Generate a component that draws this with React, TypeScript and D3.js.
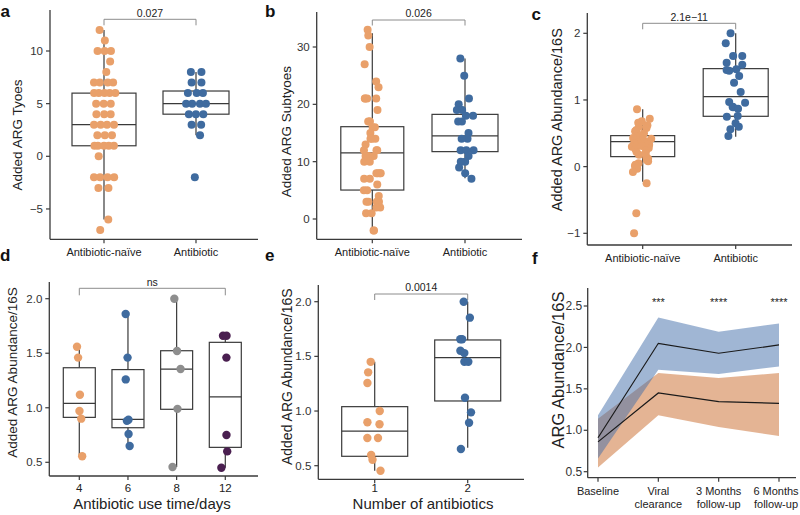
import React from "react";
import * as d3 from "d3";

// ---------------- DATA ----------------
const catAB = ["Antibiotic-naïve", "Antibiotic"];

const aNaive = [12, 11, 10, 10, 10, 9, 8, 7, 7, 7, 7, 6, 6, 6, 6, 6, 5, 5, 5, 4, 4, 4, 3, 3, 3, 3, 2, 2, 2, 1, 1, 1, 1, 1, 0, -2, -2, -2, -2, -3, -3, -6, -7];
const aAnti = [8, 8, 7, 7, 6, 6, 6, 5, 5, 5, 5, 4, 4, 4, 3, 3, 2, -2];
const aStatsNaive = [-6, 1, 3, 6, 12];
const aStatsAnti = [2, 4, 5, 6.2, 8];
const aTicks = [-5, 0, 5, 10];
const aP = "0.027";

const bNaive = [33, 32, 30, 27, 24, 23, 21, 21, 21, 21, 19, 17, 17, 17, 16, 16, 15, 14, 14, 14, 13, 12, 12, 12, 11, 11, 11, 10, 10, 8, 8, 8, 8, 7, 7, 6, 5, 5, 4, 3, 3, 3, 3, 2, 2, 1, 1, -2, -2];
const bAnti = [28, 25, 21, 20, 19, 19, 18, 18, 17, 17, 15, 14, 14, 12, 12, 12, 11, 10, 10, 9, 8, 7];
const bStatsNaive = [-2, 5.05, 11.55, 16.1, 32.4];
const bStatsAnti = [7.1, 11.75, 14.5, 18.25, 28];
const bTicks = [0, 10, 20, 30];
const bP = "0.026";

const cNaive = [0.86, 0.72, 0.68, 0.66, 0.62, 0.6, 0.58, 0.55, 0.53, 0.5, 0.48, 0.46, 0.45, 0.43, 0.42, 0.41, 0.4, 0.39, 0.38, 0.37, 0.36, 0.35, 0.33, 0.31, 0.3, 0.28, 0.26, 0.24, 0.22, 0.2, 0.18, 0.15, 0.12, 0.1, 0.08, 0.05, 0.03, 0.01, -0.03, -0.08, -0.25, -0.7, -1.0];
const cAnti = [2.0, 1.85, 1.66, 1.66, 1.56, 1.53, 1.46, 1.45, 1.44, 1.36, 1.26, 1.12, 0.97, 0.96, 0.9, 0.89, 0.87, 0.76, 0.75, 0.65, 0.6, 0.56, 0.46];
const cStatsNaive = [-0.225, 0.15, 0.375, 0.465, 0.86];
const cStatsAnti = [0.45, 0.755, 1.05, 1.47, 2.0];
const cTicks = [-1, 0, 1, 2];
const cP = "2.1e\u221211";

const dCats = ["4", "6", "8", "12"];
const d4 = [1.56, 1.46, 1.12, 0.97, 0.9, 0.555];
const d6 = [1.86, 1.46, 1.26, 0.89, 0.88, 0.76, 0.65];
const d8 = [2.0, 1.52, 1.355, 0.99, 0.457];
const d12 = [1.66, 1.66, 1.46, 0.75, 0.6, 0.45];
const dStats4 = [0.555, 0.912, 1.04, 1.367, 1.55];
const dStats6 = [0.66, 0.817, 0.894, 1.35, 1.857];
const dStats8 = [0.457, 0.986, 1.355, 1.523, 2.0];
const dStats12 = [0.45, 0.637, 1.099, 1.6, 1.658];
const dTicks = [0.5, 1.0, 1.5, 2.0];
const dP = "ns";

const eCats = ["1", "2"];
const e1 = [1.45, 1.354, 1.256, 1.0, 0.897, 0.879, 0.753, 0.753, 0.598, 0.555, 0.454];
const e2 = [2.0, 1.854, 1.656, 1.656, 1.552, 1.53, 1.451, 1.451, 1.122, 0.988, 0.893, 0.653];
const eStats1 = [0.454, 0.586, 0.817, 1.04, 1.451];
const eStats2 = [0.665, 1.092, 1.488, 1.65, 2.0];
const eTicks = [0.5, 1.0, 1.5, 2.0];
const eP = "0.0014";

const fTimes = ["Baseline", "Viral clearance", "3 Months follow-up", "6 Months follow-up"];
const fTimeLines = [["Baseline"], ["Viral", "clearance"], ["3 Months", "follow-up"], ["6 Months", "follow-up"]];
const fNaiveMean = [0.86, 1.45, 1.345, 1.325];
const fNaiveLo = [0.55, 1.18, 1.04, 0.93];
const fNaiveHi = [1.14, 1.69, 1.63, 1.69];
const fAntiMean = [0.91, 2.05, 1.93, 2.03];
const fAntiLo = [0.66, 1.73, 1.68, 1.77];
const fAntiHi = [1.18, 2.36, 2.19, 2.29];
const fStars = ["", "***", "****", "****"];
const fTicks = [0.5, 1.0, 1.5, 2.0, 2.5];

// ---------------- STYLE ----------------
const ORANGE = "#E9A06A";
const BLUE = "#3F6B9F";
const GRAY = "#8E8E8E";
const PURPLE = "#4A1F50";
const AXIS = "#3a3a3a";
const BOXC = "#3a3a3a";
const BRK = "#8c8c8c";
const FONT = "'Liberation Sans', Arial, Helvetica, sans-serif";

function jitter(values: number[], half: number, seed: number, grouped: boolean): number[] {
  const rnd = d3.randomLcg(seed);
  if (!grouped) return values.map(() => (rnd() - 0.5) * 2 * half);
  const counts = d3.rollup(values, (v) => v.length, (v) => v);
  const seen = new Map<number, number>();
  return values.map((v) => {
    const k = counts.get(v) as number;
    const i = seen.get(v) ?? 0;
    seen.set(v, i + 1);
    if (k === 1) return (rnd() - 0.5) * 1.6 * half;
    const hs = Math.min(half, 2.6 * (k - 1) + 2);
    return -hs + (i * 2 * hs) / (k - 1) + (rnd() - 0.5) * 2;
  });
}

type Scale = d3.ScaleLinear<number, number>;

function Box({ cx, bw, stats, y }: { cx: number; bw: number; stats: number[]; y: Scale }) {
  const [lo, q1, md, q3, hi] = stats;
  return (
    <g stroke={BOXC} strokeWidth={1.2} fill="white">
      <line x1={cx} x2={cx} y1={y(hi)} y2={y(q3)} />
      <line x1={cx} x2={cx} y1={y(q1)} y2={y(lo)} />
      <rect x={cx - bw / 2} y={y(q3)} width={bw} height={y(q1) - y(q3)} />
      <line x1={cx - bw / 2} x2={cx + bw / 2} y1={y(md)} y2={y(md)} />
    </g>
  );
}

function Points({ cx, vals, y, color, half, seed, grouped, r }: { cx: number; vals: number[]; y: Scale; color: string; half: number; seed: number; grouped: boolean; r: number }) {
  const dx = jitter(vals, half, seed, grouped);
  return (
    <g fill={color}>
      {vals.map((v, i) => (
        <circle key={i} cx={cx + dx[i]} cy={y(v)} r={r} />
      ))}
    </g>
  );
}

function YAxis({ x, y, ticks, fmt, top, bottom, fs, gap = 7 }: { x: number; y: Scale; ticks: number[]; fmt: (v: number) => string; top: number; bottom: number; fs: number; gap?: number }) {
  return (
    <g>
      <line x1={x} x2={x} y1={top} y2={bottom} stroke={AXIS} strokeWidth={1.3} />
      {ticks.map((t) => (
        <g key={t}>
          <line x1={x - 4} x2={x} y1={y(t)} y2={y(t)} stroke={AXIS} strokeWidth={1.2} />
          <text x={x - gap} y={y(t)} dy="0.35em" textAnchor="end" fontSize={fs} fill="#333">
            {fmt(t)}
          </text>
        </g>
      ))}
    </g>
  );
}

function XAxis({ y, left, right, xs, labels, labelY, fs }: { y: number; left: number; right: number; xs: number[]; labels: string[]; labelY: number; fs: number }) {
  return (
    <g>
      <line x1={left} x2={right} y1={y} y2={y} stroke={AXIS} strokeWidth={1.3} />
      {xs.map((x, i) => (
        <g key={i}>
          <line x1={x} x2={x} y1={y} y2={y + 4} stroke={AXIS} strokeWidth={1.2} />
          <text x={x} y={labelY} textAnchor="middle" fontSize={fs} fill="#222">
            {labels[i]}
          </text>
        </g>
      ))}
    </g>
  );
}

function Bracket({ x1, x2, y, drop, label, ly }: { x1: number; x2: number; y: number; drop: number; label: string; ly: number }) {
  return (
    <g>
      <path d={`M${x1},${y + drop}V${y}H${x2}V${y + drop}`} fill="none" stroke={BRK} strokeWidth={1} />
      <text x={(x1 + x2) / 2} y={ly} textAnchor="middle" fontSize={10.5} fill="#222">
        {label}
      </text>
    </g>
  );
}

function YTitle({ x, cy, text, fs }: { x: number; cy: number; text: string; fs: number }) {
  return (
    <text transform={`translate(${x},${cy}) rotate(-90)`} textAnchor="middle" fontSize={fs} fill="#222">
      {text}
    </text>
  );
}

function PanelLetter({ x, y, t }: { x: number; y: number; t: string }) {
  return (
    <text x={x} y={y} fontSize={17} fontWeight="bold" fill="#111">
      {t}
    </text>
  );
}

const intFmt = (v: number) => (v < 0 ? "\u2212" + Math.abs(v) : String(v));
const oneFmt = d3.format(".1f");

export default function App() {
  // Panel a
  const yA = d3.scaleLinear().domain([0, 10]).range([156.3, 51]);
  const xA = d3.scalePoint<string>().domain(catAB).range([104, 196]);
  // Panel b
  const yB = d3.scaleLinear().domain([0, 30]).range([219, 47]);
  const xB = d3.scalePoint<string>().domain(catAB).range([372.3, 465]);
  // Panel c
  const yC = d3.scaleLinear().domain([-1, 2]).range([233.3, 33.3]);
  const xC = d3.scalePoint<string>().domain(catAB).range([642.7, 735.7]);
  // Panel d
  const yD = d3.scaleLinear().domain([0.5, 2.0]).range([462.3, 298.7]);
  const xD = d3.scalePoint<string>().domain(dCats).range([79.3, 225.3]);
  // Panel e
  const yE = d3.scaleLinear().domain([0.5, 2.0]).range([465.7, 301.7]);
  const xE = d3.scalePoint<string>().domain(eCats).range([374.7, 467.7]);
  // Panel f
  const yF = d3.scaleLinear().domain([0.5, 2.5]).range([471.7, 306]);
  const xF = d3.scalePoint<string>().domain(fTimes).range([598, 779]);

  const dGroups = [d4, d6, d8, d12];
  const dStats = [dStats4, dStats6, dStats8, dStats12];
  const dColors = [ORANGE, BLUE, GRAY, PURPLE];

  const idx = fTimes.map((_, i) => i);
  const areaNaive = d3
    .area<number>()
    .x((i) => xF(fTimes[i]) as number)
    .y0((i) => yF(fNaiveLo[i]))
    .y1((i) => yF(fNaiveHi[i]));
  const areaAnti = d3
    .area<number>()
    .x((i) => xF(fTimes[i]) as number)
    .y0((i) => yF(fAntiLo[i]))
    .y1((i) => yF(fAntiHi[i]));
  const lineNaive = d3
    .line<number>()
    .x((i) => xF(fTimes[i]) as number)
    .y((i) => yF(fNaiveMean[i]));
  const lineAnti = d3
    .line<number>()
    .x((i) => xF(fTimes[i]) as number)
    .y((i) => yF(fAntiMean[i]));

  return (
    <div style={{ position: "absolute", left: 0, top: 0 }}>
      <svg width={800} height={515} style={{ display: "block", background: "white" }} fontFamily={FONT}>
        <rect width={800} height={515} fill="white" />

        {/* ---------- Panel a ---------- */}
        <PanelLetter x={0.5} y={17.3} t="a" />
        <YAxis x={50} y={yA} ticks={aTicks} fmt={intFmt} top={10} bottom={239.3} fs={11.5} />
        <XAxis y={239.3} left={50} right={258} xs={catAB.map((c) => xA(c) as number)} labels={catAB} labelY={256.3} fs={11} />
        <YTitle x={21.5} cy={135} text="Added ARG Tyoes" fs={13.5} />
        <Bracket x1={xA(catAB[0]) as number} x2={xA(catAB[1]) as number} y={19.3} drop={6} label={aP} ly={16.5} />
        <Box cx={xA(catAB[0]) as number} bw={64} stats={aStatsNaive} y={yA} />
        <Box cx={xA(catAB[1]) as number} bw={66} stats={aStatsAnti} y={yA} />
        <Points cx={xA(catAB[0]) as number} vals={aNaive} y={yA} color={ORANGE} half={10.5} seed={3} grouped r={4} />
        <Points cx={xA(catAB[1]) as number} vals={aAnti} y={yA} color={BLUE} half={9} seed={7} grouped r={4} />

        {/* ---------- Panel b ---------- */}
        <PanelLetter x={265} y={17.3} t="b" />
        <YAxis x={316.7} y={yB} ticks={bTicks} fmt={intFmt} top={12} bottom={239.3} fs={11.5} />
        <XAxis y={239.3} left={316.7} right={522} xs={catAB.map((c) => xB(c) as number)} labels={catAB} labelY={256.3} fs={11} />
        <YTitle x={291} cy={131.7} text="Added ARG Subtyoes" fs={13.5} />
        <Bracket x1={xB(catAB[0]) as number} x2={xB(catAB[1]) as number} y={20} drop={5.5} label={bP} ly={17.3} />
        <Box cx={xB(catAB[0]) as number} bw={63} stats={bStatsNaive} y={yB} />
        <Box cx={xB(catAB[1]) as number} bw={66} stats={bStatsAnti} y={yB} />
        <Points cx={xB(catAB[0]) as number} vals={bNaive} y={yB} color={ORANGE} half={9} seed={11} grouped={false} r={4} />
        <Points cx={xB(catAB[1]) as number} vals={bAnti} y={yB} color={BLUE} half={9} seed={13} grouped={false} r={4} />

        {/* ---------- Panel c ---------- */}
        <PanelLetter x={531.5} y={20} t="c" />
        <YAxis x={587.3} y={yC} ticks={cTicks} fmt={intFmt} top={13} bottom={245} fs={11.5} />
        <XAxis y={245} left={587.3} right={792} xs={catAB.map((c) => xC(c) as number)} labels={catAB} labelY={261.5} fs={11} />
        <YTitle x={562} cy={119.7} text="Added ARG Abundance/16S" fs={14.5} />
        <Bracket x1={xC(catAB[0]) as number} x2={xC(catAB[1]) as number} y={23.3} drop={6} label={cP} ly={20.5} />
        <Box cx={xC(catAB[0]) as number} bw={64} stats={cStatsNaive} y={yC} />
        <Box cx={xC(catAB[1]) as number} bw={65} stats={cStatsAnti} y={yC} />
        <Points cx={xC(catAB[0]) as number} vals={cNaive} y={yC} color={ORANGE} half={11} seed={17} grouped={false} r={4} />
        <Points cx={xC(catAB[1]) as number} vals={cAnti} y={yC} color={BLUE} half={10} seed={19} grouped={false} r={4} />

        {/* ---------- Panel d ---------- */}
        <PanelLetter x={0} y={261} t="d" />
        <YAxis x={49.3} y={yD} ticks={dTicks} fmt={oneFmt} top={282} bottom={476} fs={11.5} />
        <XAxis y={476} left={49.3} right={258} xs={dCats.map((c) => xD(c) as number)} labels={dCats} labelY={492} fs={11.5} />
        <YTitle x={16.5} cy={372.5} text="Added ARG Abundance/16S" fs={13.5} />
        <text x={152} y={509} textAnchor="middle" fontSize={15} fill="#222">Antibiotic use time/days</text>
        <Bracket x1={xD(dCats[0]) as number} x2={xD(dCats[3]) as number} y={288.3} drop={7} label={dP} ly={285.5} />
        {dCats.map((c, i) => (
          <Box key={c} cx={xD(c) as number} bw={32} stats={dStats[i]} y={yD} />
        ))}
        {dCats.map((c, i) => (
          <Points key={c} cx={xD(c) as number} vals={dGroups[i]} y={yD} color={dColors[i]} half={4.5} seed={23 + i} grouped={false} r={4.2} />
        ))}

        {/* ---------- Panel e ---------- */}
        <PanelLetter x={265} y={260.5} t="e" />
        <YAxis x={318.3} y={yE} ticks={eTicks} fmt={oneFmt} top={285} bottom={479.3} fs={11.5} />
        <XAxis y={479.3} left={318.3} right={524} xs={eCats.map((c) => xE(c) as number)} labels={eCats} labelY={492} fs={11.5} />
        <YTitle x={291.7} cy={376.7} text="Added ARG Abundance/16S" fs={14} />
        <text x={423} y={509} textAnchor="middle" fontSize={15} fill="#222">Number of antibiotics</text>
        <Bracket x1={xE(eCats[0]) as number} x2={xE(eCats[1]) as number} y={294} drop={6} label={eP} ly={290.5} />
        <Box cx={xE(eCats[0]) as number} bw={66} stats={eStats1} y={yE} />
        <Box cx={xE(eCats[1]) as number} bw={66} stats={eStats2} y={yE} />
        <Points cx={xE(eCats[0]) as number} vals={e1} y={yE} color={ORANGE} half={8} seed={31} grouped={false} r={4.2} />
        <Points cx={xE(eCats[1]) as number} vals={e2} y={yE} color={BLUE} half={8} seed={37} grouped={false} r={4.2} />

        {/* ---------- Panel f ---------- */}
        <PanelLetter x={532} y={264} t="f" />
        <path d={areaNaive(idx) as string} fill="#C96929" fillOpacity={0.5} />
        <path d={areaAnti(idx) as string} fill="#416DA9" fillOpacity={0.5} />
        <path d={lineNaive(idx) as string} fill="none" stroke="#1a1a1a" strokeWidth={1.2} />
        <path d={lineAnti(idx) as string} fill="none" stroke="#1a1a1a" strokeWidth={1.2} />
        <YAxis x={587.7} y={yF} ticks={fTicks} fmt={oneFmt} top={288} bottom={477.7} fs={12} gap={5.5} />
        <line x1={587.7} x2={796} y1={477.7} y2={477.7} stroke={AXIS} strokeWidth={1.3} />
        {fTimes.map((t, i) => {
          const x = xF(t) as number;
          const lx = Math.min(x, 776);
          return (
            <g key={t}>
              <line x1={x} x2={x} y1={477.7} y2={481.7} stroke={AXIS} strokeWidth={1.2} />
              {fTimeLines[i].map((ln, j) => (
                <text key={j} x={lx} y={495 + j * 13} textAnchor="middle" fontSize={11} fill="#222">
                  {ln}
                </text>
              ))}
              {fStars[i] && (
                <text x={x} y={306} textAnchor="middle" fontSize={11} fill="#222">
                  {fStars[i]}
                </text>
              )}
            </g>
          );
        })}
        <YTitle x={563.5} cy={370} text="ARG Abundance/16S" fs={16.5} />
      </svg>
    </div>
  );
}
